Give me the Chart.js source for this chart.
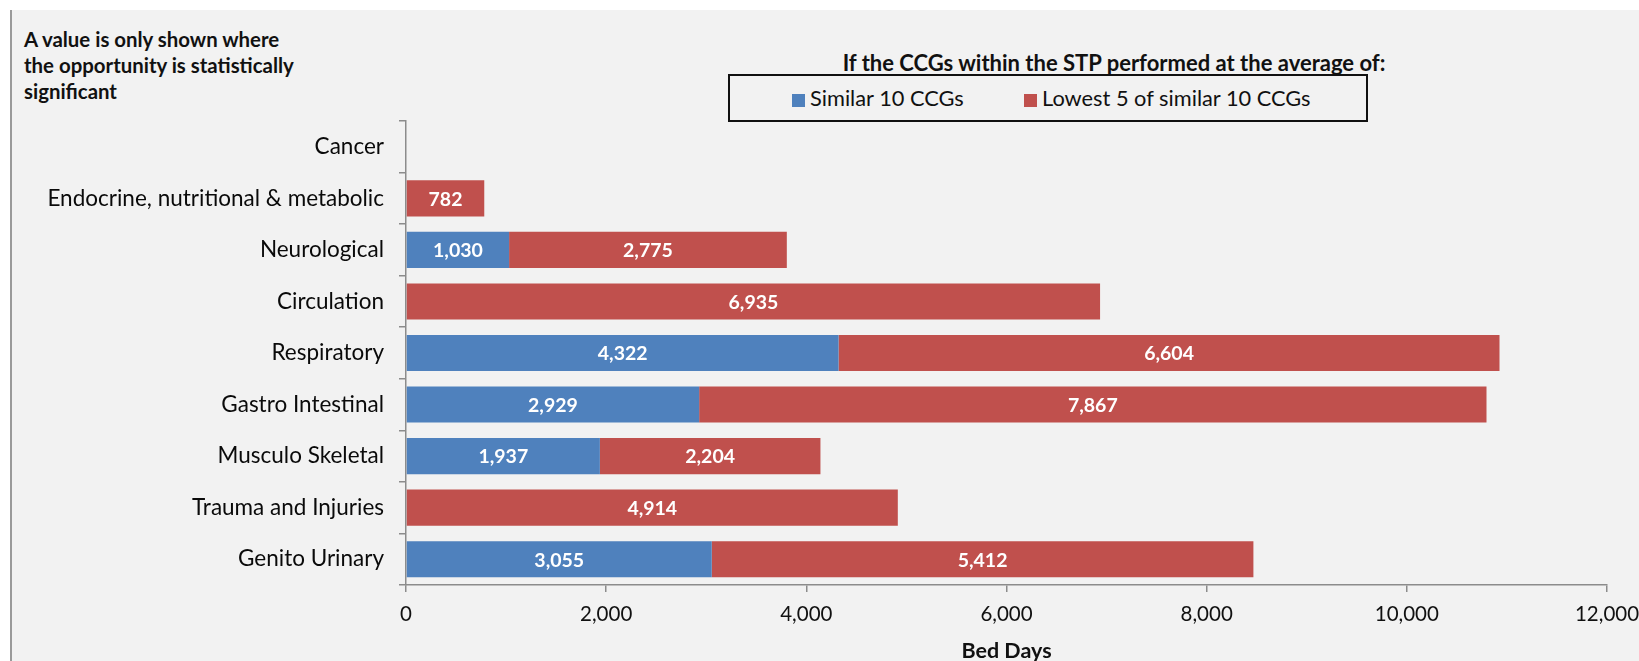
<!DOCTYPE html>
<html>
<head>
<meta charset="utf-8">
<script src="https://cdn.jsdelivr.net/npm/chart.js@4/dist/chart.umd.min.js"></script>
<style>
  html, body { margin: 0; padding: 0; }
  body { width: 1639px; height: 661px; background: #ffffff; position: relative; overflow: hidden; font-family: Lato, "Open Sans", sans-serif; }
  #panel { position: absolute; left: 10px; top: 10px; width: 1629px; height: 651px; background: #f2f2f2; border-left: 2px solid #9a9a9a; box-sizing: border-box; }
  #note { position: absolute; left: 24px; top: 26px; font-weight: bold; font-size: 20.4px; line-height: 26px; color: #111; }
  #title { position: absolute; left: 714px; width: 800px; top: 50px; text-align: center; font-weight: bold; font-size: 22px; line-height: 26px; color: #111; }
  #legend { position: absolute; left: 728px; top: 74px; width: 640px; height: 48px; border: 2px solid #111; box-sizing: border-box; }
  .li { position: absolute; top: 0; height: 44px; line-height: 44px; font-size: 21.8px; color: #111; white-space: nowrap; }
  .sw { display: inline-block; width: 13px; height: 13px; margin-right: 5px; vertical-align: -1px; }
  canvas { position: absolute; left: 0; top: 0; }
</style>
</head>
<body>
<div id="panel"></div>
<div id="note">A value is only shown where<br>the opportunity is statistically<br>significant</div>
<div id="title">If the CCGs within the STP performed at the average of:</div>
<div id="legend"></div>
<canvas id="c" width="1639" height="661"></canvas>
<script>
const categories = ["Cancer", "Endocrine, nutritional & metabolic", "Neurological", "Circulation", "Respiratory", "Gastro Intestinal", "Musculo Skeletal", "Trauma and Injuries", "Genito Urinary"];
const similar10 = [null, null, 1030, null, 4322, 2929, 1937, null, 3055];
const lowest5 = [null, 782, 2775, 6935, 6604, 7867, 2204, 4914, 5412];
const seriesNames = ["Similar 10 CCGs", "Lowest 5 of similar 10 CCGs"];
const seriesColors = ["#4f81bd", "#c0504d"];
const xTicks = [0, 2000, 4000, 6000, 8000, 10000, 12000];
const xTitle = "Bed Days";

// HTML legend
const lg = document.getElementById('legend');
const legendX = [62, 294];
seriesNames.forEach((n, i) => {
  const d = document.createElement('div');
  d.className = 'li';
  d.style.left = legendX[i] + 'px';
  d.innerHTML = '<span class="sw" style="background:' + seriesColors[i] + '"></span>' + n;
  lg.appendChild(d);
});

const FONT = "Lato, 'Open Sans', sans-serif";

const valueLabels = {
  id: 'valueLabels',
  afterDatasetsDraw(chart) {
    const ctx = chart.ctx;
    ctx.save();
    ctx.font = "bold 19.5px " + FONT;
    ctx.fillStyle = '#ffffff';
    ctx.textAlign = 'center';
    ctx.textBaseline = 'middle';
    chart.data.datasets.forEach((ds, di) => {
      const meta = chart.getDatasetMeta(di);
      meta.data.forEach((el, i) => {
        const v = ds.data[i];
        if (v === null || v === undefined) return;
        const p = el.getProps(['x', 'y', 'base'], true);
        ctx.fillText(v.toLocaleString('en-US'), (p.x + p.base) / 2, p.y + 1);
      });
    });
    ctx.restore();
  }
};

new Chart(document.getElementById('c'), {
  type: 'bar',
  data: {
    labels: categories,
    datasets: [
      { label: seriesNames[0], data: similar10, backgroundColor: seriesColors[0], categoryPercentage: 1.0, barPercentage: 0.7 },
      { label: seriesNames[1], data: lowest5, backgroundColor: seriesColors[1], categoryPercentage: 1.0, barPercentage: 0.7 }
    ]
  },
  options: {
    indexAxis: 'y',
    responsive: false,
    animation: false,
    layout: { padding: { left: 10, right: 32, top: 121, bottom: 0 } },
    plugins: { legend: { display: false }, tooltip: { enabled: false } },
    scales: {
      x: {
        stacked: true,
        min: 0, max: 12000,
        afterBuildTicks: (s) => { s.ticks = xTicks.map(v => ({ value: v })); },
        afterFit: (s) => { s.height = 76; s.paddingRight = 0; s.paddingLeft = 0; },
        grid: { display: true, drawOnChartArea: false, drawTicks: true, tickLength: 7, color: '#8c8c8c', lineWidth: 1.5 },
        border: { display: true, color: '#8c8c8c', width: 1.5 },
        ticks: { color: '#111', font: { family: FONT, size: 20.5 }, padding: 10, maxRotation: 0,
                 callback: (v) => Number(v).toLocaleString('en-US') },
        title: { display: true, text: xTitle, color: '#111', font: { family: FONT, size: 21.5, weight: 'bold' }, padding: { top: 0, bottom: -3 } }
      },
      y: {
        stacked: true,
        afterFit: (s) => { s.width = 396; },
        grid: { display: true, drawOnChartArea: false, drawTicks: true, tickLength: 7, color: '#8c8c8c', lineWidth: 1.5, offset: true },
        border: { display: true, color: '#8c8c8c', width: 1.5 },
        ticks: { color: '#0a0a0a', font: { family: FONT, size: 22.5 }, padding: 15, autoSkip: false }
      }
    }
  },
  plugins: [valueLabels]
});
</script>
</body>
</html>
